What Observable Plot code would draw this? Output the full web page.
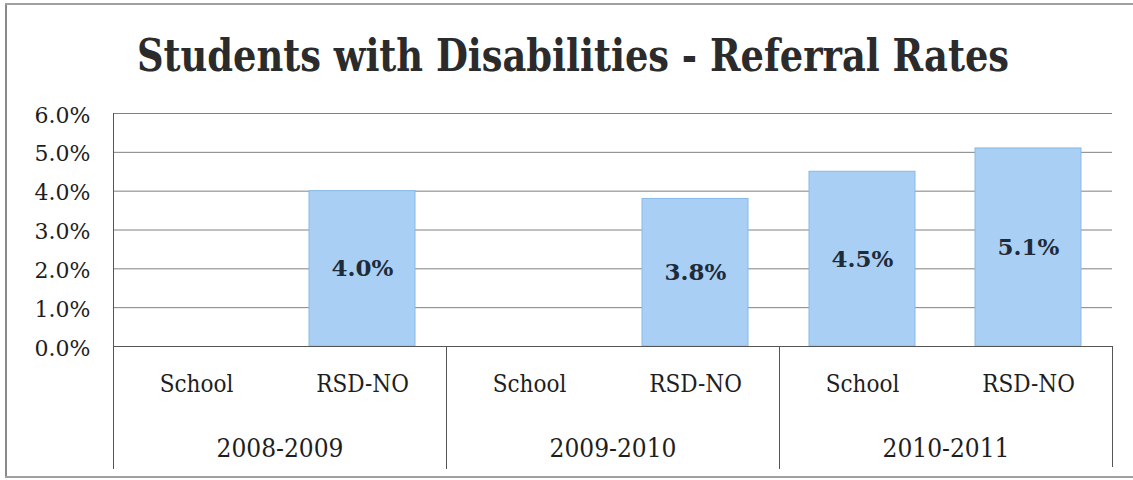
<!DOCTYPE html>
<html>
<head>
<meta charset="utf-8">
<script src="https://cdn.jsdelivr.net/npm/d3@7"></script>
<script src="https://cdn.jsdelivr.net/npm/@observablehq/plot@0.6"></script>
<style>
  html, body { margin: 0; padding: 0; background: #fff; }
  #wrap { position: relative; width: 1133px; height: 480px; overflow: hidden; background: #fff; }
  #frameL { position: absolute; left: 5px; top: 3px; width: 2px; height: 475px; background: #8a8a8a; }
  #frameT { position: absolute; left: 5px; top: 3px; width: 1128px; height: 2px; background: #a0a0a0; }
  #frameB { position: absolute; left: 5px; top: 476px; width: 1128px; height: 2px; background: #a0a0a0; }
  #title { position: absolute; left: 0; top: 0; width: 1133px; height: 100px; }
  #chart { position: absolute; left: 0; top: 100px; }
</style>
</head>
<body>
<div id="wrap">
  <div id="title"></div>
  <div id="chart"></div>
  <div id="frameL"></div>
  <div id="frameT"></div>
  <div id="frameB"></div>
</div>
<script>
const titleText = "Students with Disabilities - Referral Rates";
const years = ["2008-2009", "2009-2010", "2010-2011"];
const groups = ["School", "RSD-NO"];
// values in percent, order: year × group
const values = [null, 4.0, null, 3.8, 4.5, 5.1];
const valueLabels = ["", "4.0%", "", "3.8%", "4.5%", "5.1%"];
const yTicks = [0, 1, 2, 3, 4, 5, 6];

const rows = [];
years.forEach((yr, i) => groups.forEach((g, j) => {
  const k = i * groups.length + j;
  rows.push({year: yr, group: g, value: values[k], label: valueLabels[k]});
}));
const present = rows.filter(d => d.value != null);

// Title
const tsvg = d3.select("#title").append("svg").attr("width", 1133).attr("height", 100);
tsvg.append("text")
  .attr("x", 573).attr("y", 71)
  .attr("text-anchor", "middle")
  .attr("font-family", "'DejaVu Serif Condensed', 'DejaVu Serif', serif")
  .attr("font-weight", "bold")
  .attr("font-size", 45)
  .attr("fill", "#2b2b2b")
  .attr("textLength", 872)
  .attr("lengthAdjust", "spacingAndGlyphs")
  .text(titleText);

const condensed = "'DejaVu Serif Condensed', 'DejaVu Serif', serif";

const chart = Plot.plot({
  width: 1133,
  height: 380,
  marginLeft: 113,
  marginRight: 21,
  marginTop: 13,
  marginBottom: 134,
  style: {fontFamily: "'DejaVu Serif', serif", color: "#1e1e1e", background: "transparent"},
  fx: {domain: years, padding: 0, label: null},
  x: {domain: groups, paddingInner: 0.36, paddingOuter: 0.18, label: null},
  y: {domain: [0, 6], label: null},
  marks: [
    Plot.gridY(yTicks.slice(1), {stroke: "#808080", strokeOpacity: 1, strokeWidth: 1}),
    Plot.barY(present, {fx: "year", x: "group", y: "value", fill: "#a9d0f4", stroke: "#86b9e6", strokeWidth: 1}),
    Plot.ruleY([0], {stroke: "#555"}),
    Plot.text(present, {fx: "year", x: "group", y: d => d.value / 2, text: "label",
      fontSize: 23, fontWeight: "bold", fill: "#1f2b3a", fontFamily: "'DejaVu Serif', serif"}),
    // left axis line of plot area (first facet only)
    Plot.frame({anchor: "left", facetAnchor: "left", stroke: "#555"}),
    // separators in the category area below the plot
    Plot.frame({anchor: "left", insetTop: 233, insetBottom: -122, stroke: "#555"}),
    Plot.frame({anchor: "right", insetTop: 233, insetBottom: -120, stroke: "#555"}),
    Plot.axisY({ticks: yTicks, tickFormat: d => d.toFixed(1) + "%", tickSize: 0, tickPadding: 23,
      fontSize: 22, dy: 2, label: null}),
    Plot.axisX({tickSize: 0, tickPadding: 28, fontSize: 24, fontFamily: condensed, label: null}),
    Plot.axisFx({anchor: "bottom", tickSize: 0, tickPadding: 92, fontSize: 26, fontFamily: condensed, label: null})
  ]
});
document.getElementById("chart").appendChild(chart);
</script>
</body>
</html>
